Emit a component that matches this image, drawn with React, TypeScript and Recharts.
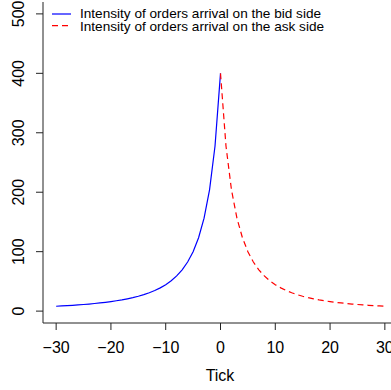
import React from 'react';
import { LineChart, Line, XAxis, YAxis } from 'recharts';

// order arrival intensity at each integer tick
const bidTicks = [-30, -29, -28, -27, -26, -25, -24, -23, -22, -21, -20, -19, -18, -17, -16, -15, -14, -13, -12, -11, -10, -9, -8, -7, -6, -5, -4, -3, -2, -1, 0];
const bidValues = [8.2, 8.7, 9.2, 9.8, 10.4, 11.1, 11.9, 12.8, 13.7, 14.8, 16.0, 17.4, 18.9, 20.7, 22.7, 25.0, 27.7, 30.9, 34.6, 39.1, 44.4, 51.0, 59.2, 69.4, 82.6, 100, 123.5, 156.3, 204.1, 277.8, 400];
const askTicks = [0, 1, 2, 3, 4, 5, 6, 7, 8, 9, 10, 11, 12, 13, 14, 15, 16, 17, 18, 19, 20, 21, 22, 23, 24, 25, 26, 27, 28, 29, 30];
const askValues = [400, 277.8, 204.1, 156.3, 123.5, 100, 82.6, 69.4, 59.2, 51.0, 44.4, 39.1, 34.6, 30.9, 27.7, 25.0, 22.7, 20.7, 18.9, 17.4, 16.0, 14.8, 13.7, 12.8, 11.9, 11.1, 10.4, 9.8, 9.2, 8.7, 8.2];

const xTicks = [-30, -20, -10, 0, 10, 20, 30];
const yTicks = [0, 100, 200, 300, 400, 500];
const seriesNames = ['Intensity of orders arrival on the bid side', 'Intensity of orders arrival on the ask side'];

const font = '"Liberation Sans", Arial, sans-serif';
const axisColor = '#222';

const data = [
  ...bidTicks.map((t, i) => ({ tick: t, bid: bidValues[i], ask: t === 0 ? askValues[0] : undefined })),
  ...askTicks.slice(1).map((t, i) => ({ tick: t, bid: undefined, ask: askValues[i + 1] })),
];

const XTick = (props: any) => {
  const { x, payload } = props;
  const v = payload.value;
  return (
    <text x={x} y={352.5} textAnchor="middle" fontSize={16} fontFamily={font} fill="#000">
      {v < 0 ? '\u2212' + Math.abs(v) : String(v)}
    </text>
  );
};

const YTick = (props: any) => {
  const { y, payload } = props;
  return (
    <text x={24} y={y} transform={`rotate(-90 24 ${y})`} textAnchor="middle" fontSize={16} fontFamily={font} fill="#000">
      {payload.value}
    </text>
  );
};

export default function App() {
  return (
    <div style={{ position: 'absolute', left: 0, top: 0, width: 391, height: 390, overflow: 'hidden', background: '#fff' }}>
      <LineChart width={400} height={390} data={data} margin={{ top: 2, right: 2, bottom: 0, left: 0 }}>
        <XAxis
          dataKey="tick"
          type="number"
          domain={[-32.4, 32.4]}
          ticks={xTicks}
          allowDataOverflow
          height={67}
          tickSize={7}
          stroke={axisColor}
          tick={<XTick />}
        />
        <XAxis xAxisId="top" orientation="top" type="number" domain={[-32.4, 32.4]} height={0} tick={false} tickLine={false} stroke={axisColor} />
        <YAxis
          type="number"
          domain={[-20, 520]}
          ticks={yTicks}
          allowDataOverflow
          width={43}
          tickSize={7}
          stroke={axisColor}
          tick={<YTick />}
        />
        <Line dataKey="bid" name={seriesNames[0]} type="linear" stroke="#0000ff" strokeWidth={1.2} dot={false} activeDot={false} isAnimationActive={false} />
        <Line dataKey="ask" name={seriesNames[1]} type="linear" stroke="#ff0000" strokeWidth={1.2} strokeDasharray="6 4" dot={false} activeDot={false} isAnimationActive={false} />
      </LineChart>
      <svg width={391} height={390} style={{ position: 'absolute', left: 0, top: 0, pointerEvents: 'none' }}>
        <line x1={52} x2={71} y1={14} y2={14} stroke="#0000ff" strokeWidth={1.2} />
        <line x1={52} x2={71} y1={25.7} y2={25.7} stroke="#ff0000" strokeWidth={1.2} strokeDasharray="6 4" />
        <text x={80} y={18.3} fontSize={13.6} fontFamily={font} fill="#000">{seriesNames[0]}</text>
        <text x={80} y={30.7} fontSize={13.6} fontFamily={font} fill="#000">{seriesNames[1]}</text>
        <text x={220} y={381} textAnchor="middle" fontSize={16} fontFamily={font} fill="#000">Tick</text>
      </svg>
    </div>
  );
}
